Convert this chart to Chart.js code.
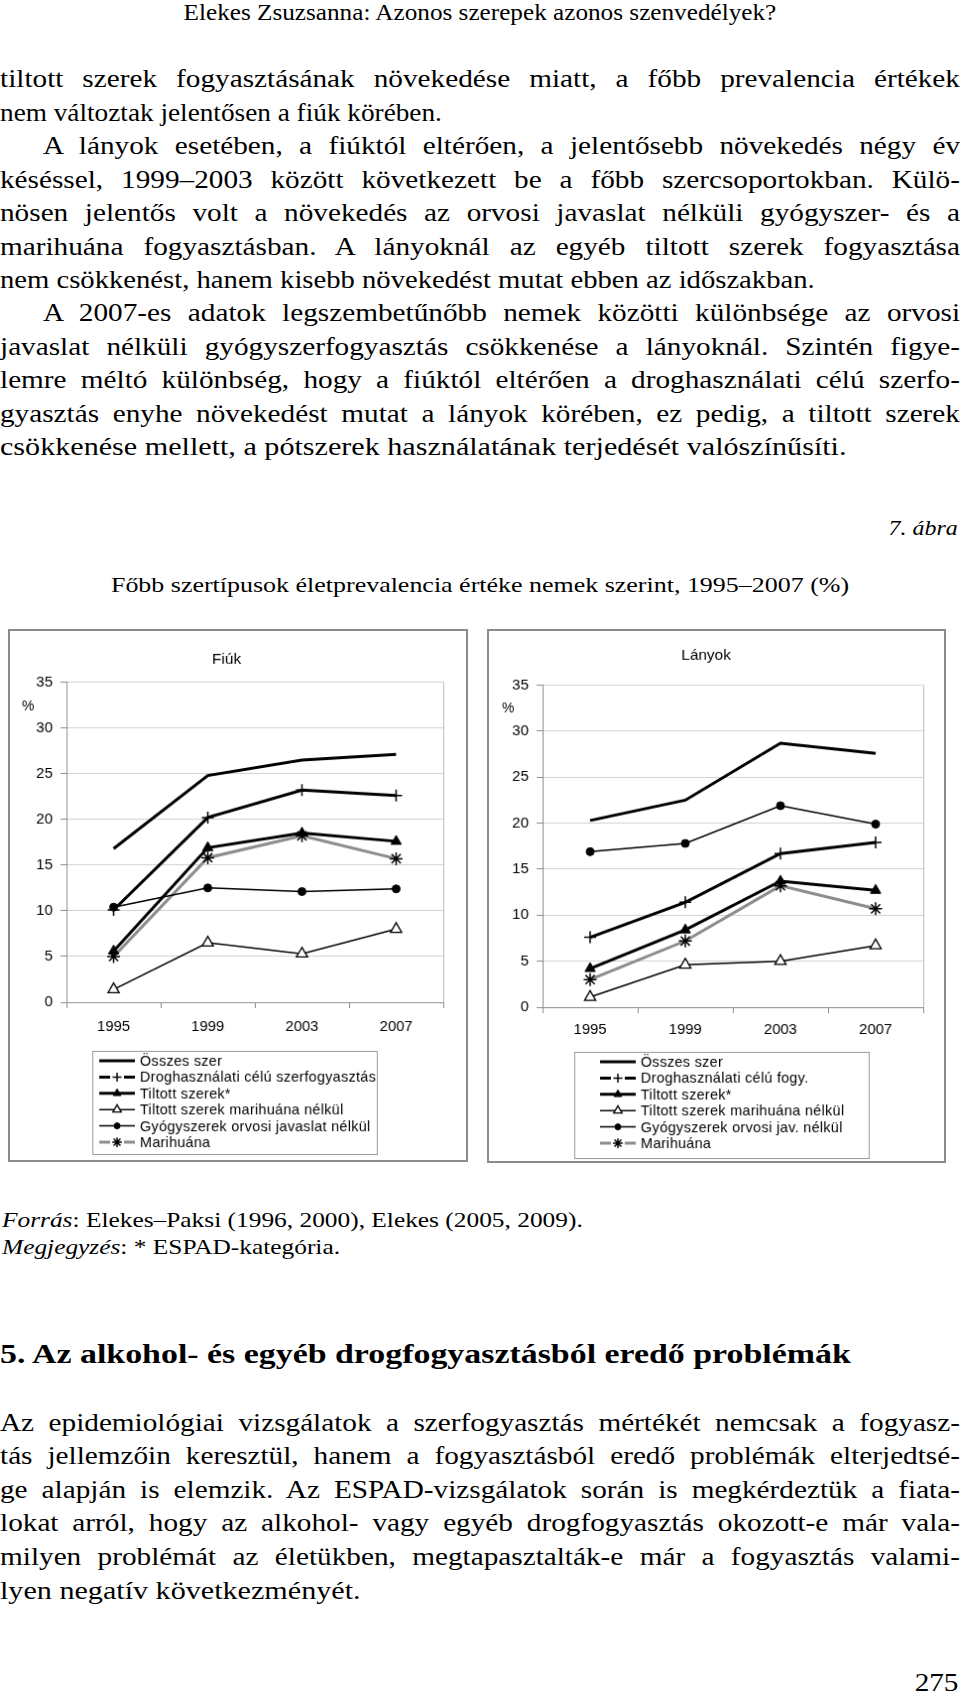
<!DOCTYPE html>
<html lang="hu">
<head>
<meta charset="utf-8">
<title>7. ábra</title>
<script src="https://cdn.jsdelivr.net/npm/chart.js"></script>
<style>
  html, body { margin: 0; padding: 0; background: #fff; }
  body { width: 960px; height: 1699px; position: relative; overflow: hidden;
         font-family: "Liberation Serif", "Times New Roman", serif; color: #000; }
  /* the source pdf sets Times slightly wider than Liberation Serif */
  .ln { position: absolute; left: 0; width: 820.5px; font-size: 25px; line-height: 34px;
        transform: scaleX(1.17); transform-origin: 0 0; }
  .j { text-align: justify; text-align-last: justify; }
  .ind { left: 43px; width: 783.8px; }
  .hdr { position: absolute; top: 0; left: 0; width: 857px; text-align: center; font-size: 22.5px; line-height: 26px;
         transform: scaleX(1.12); transform-origin: 0 0; }
  .note { position: absolute; left: 2px; font-size: 21.7px; line-height: 27px;
          transform: scaleX(1.17); transform-origin: 0 0; }
  .right { position: absolute; right: 2px; transform-origin: 100% 0; }
  canvas.box { position: absolute; border: 2px solid #8c8c8c; }
</style>
</head>
<body>
<div class="hdr">Elekes Zsuzsanna: Azonos szerepek azonos szenvedélyek?</div>

<div class="ln j" style="top:62px">tiltott szerek fogyasztásának növekedése miatt, a főbb prevalencia értékek</div>
<div class="ln" style="top:96px; transform:scaleX(1.09);">nem változtak jelentősen a fiúk körében.</div>
<div class="ln j ind" style="top:129px">A lányok esetében, a fiúktól eltérően, a jelentősebb növekedés négy év</div>
<div class="ln j" style="top:163px">késéssel, 1999–2003 között következett be a főbb szercsoportokban. Külö-</div>
<div class="ln j" style="top:196px">nösen jelentős volt a növekedés az orvosi javaslat nélküli gyógyszer- és a</div>
<div class="ln j" style="top:230px">marihuána fogyasztásban. A lányoknál az egyéb tiltott szerek fogyasztása</div>
<div class="ln" style="top:263px; transform:scaleX(1.146);">nem csökkenést, hanem kisebb növekedést mutat ebben az időszakban.</div>
<div class="ln j ind" style="top:296px">A 2007-es adatok legszembetűnőbb nemek közötti különbsége az orvosi</div>
<div class="ln j" style="top:330px">javaslat nélküli gyógyszerfogyasztás csökkenése a lányoknál. Szintén figye-</div>
<div class="ln j" style="top:363px">lemre méltó különbség, hogy a fiúktól eltérően a droghasználati célú szerfo-</div>
<div class="ln j" style="top:397px">gyasztás enyhe növekedést mutat a lányok körében, ez pedig, a tiltott szerek</div>
<div class="ln" style="top:430px; transform:scaleX(1.205);">csökkenése mellett, a pótszerek használatának terjedését valószínűsíti.</div>

<div class="right" style="top:515px; font-size:21px; line-height:26px; font-style:italic; transform:scaleX(1.14);">7. ábra</div>
<div style="position:absolute; top:572px; left:0; width:813.6px; text-align:center; font-size:22px; line-height:26px; transform:scaleX(1.18); transform-origin:0 0;">Főbb szertípusok életprevalencia értéke nemek szerint, 1995–2007 (%)</div>

<canvas id="fiuk" class="box" width="460" height="533" style="left:8px; top:629px;"></canvas>
<canvas id="lanyok" class="box" width="459" height="534" style="left:487px; top:629px;"></canvas>

<div class="note" style="top:1207px"><i>Forrás</i>: Elekes–Paksi (1996, 2000), Elekes (2005, 2009).</div>
<div class="note" style="top:1234px"><i>Megjegyzés</i>: * ESPAD-kategória.</div>

<div class="ln" style="top:1337px; font-size:28px; font-weight:bold; width:793px; transform:scaleX(1.21);">5. Az alkohol- és egyéb drogfogyasztásból eredő problémák</div>

<div class="ln j" style="top:1406px">Az epidemiológiai vizsgálatok a szerfogyasztás mértékét nemcsak a fogyasz-</div>
<div class="ln j" style="top:1439px">tás jellemzőin keresztül, hanem a fogyasztásból eredő problémák elterjedtsé-</div>
<div class="ln j" style="top:1473px">ge alapján is elemzik. Az ESPAD-vizsgálatok során is megkérdeztük a fiata-</div>
<div class="ln j" style="top:1506px">lokat arról, hogy az alkohol- vagy egyéb drogfogyasztás okozott-e már vala-</div>
<div class="ln j" style="top:1540px">milyen problémát az életükben, megtapasztalták-e már a fogyasztás valami-</div>
<div class="ln" style="top:1574px; transform:scaleX(1.205);">lyen negatív következményét.</div>

<div class="right" style="top:1668px; font-size:25px; line-height:30px; transform:scaleX(1.17);">275</div>

<script>
// adatok (%), leolvasva az ábráról
const years = ['1995', '1999', '2003', '2007'];
const labelsFiuk = ['Összes szer', 'Droghasználati célú szerfogyasztás', 'Tiltott szerek*',
  'Tiltott szerek marihuána nélkül', 'Gyógyszerek orvosi javaslat nélkül', 'Marihuána'];
const labelsLanyok = ['Összes szer', 'Droghasználati célú fogy.', 'Tiltott szerek*',
  'Tiltott szerek marihuána nélkül', 'Gyógyszerek orvosi jav. nélkül', 'Marihuána'];

const fiukOsszes = [16.8, 24.8, 26.5, 27.1];
const fiukDrog = [10.1, 20.2, 23.2, 22.6];
const fiukTiltott = [5.6, 16.9, 18.5, 17.6];
const fiukTiltottNelkul = [1.4, 6.5, 5.3, 8.0];
const fiukGyogyszer = [10.4, 12.5, 12.1, 12.4];
const fiukMarihuana = [5.0, 15.8, 18.2, 15.7];

const lanyOsszes = [20.3, 22.5, 28.7, 27.6];
const lanyDrog = [7.6, 11.4, 16.7, 17.9];
const lanyTiltott = [4.2, 8.4, 13.7, 12.7];
const lanyTiltottNelkul = [1.1, 4.6, 5.0, 6.7];
const lanyGyogyszer = [16.9, 17.8, 21.9, 19.9];
const lanyMarihuana = [3.0, 7.2, 13.2, 10.7];

const yMin = 0, yMax = 35, yStep = 5;

// vonal- es jelolostilusok sorrendben
const styles = [
  { borderColor: '#000', borderWidth: 3, pointRadius: 0, pointStyle: 'circle' },
  { borderColor: '#000', borderWidth: 3, pointStyle: 'cross', pointRadius: 6, pointBorderWidth: 1.5,
    pointBorderColor: '#000', pointBackgroundColor: '#000', gap: true },
  { borderColor: '#000', borderWidth: 3, pointStyle: 'triangle', pointRadius: 6, pointBorderWidth: 1,
    pointBorderColor: '#000', pointBackgroundColor: '#000' },
  { borderColor: '#000', borderWidth: 1.5, pointStyle: 'triangle', pointRadius: 6.5, pointBorderWidth: 1.3,
    pointBorderColor: '#000', pointBackgroundColor: '#fff' },
  { borderColor: '#000', borderWidth: 1.5, pointStyle: 'circle', pointRadius: 4, pointBorderWidth: 1,
    pointBorderColor: '#000', pointBackgroundColor: '#000' },
  { borderColor: '#8c8c8c', borderWidth: 3, pointStyle: 'star', pointRadius: 6.5, pointBorderWidth: 1.5,
    pointBorderColor: '#000', pointBackgroundColor: '#000', gap: true }
];

const sansFont = '"Liberation Sans", Arial, sans-serif';

// legend box, % felirat, jobb oldali keret
const extras = {
  id: 'extras',
  beforeDatasetsDraw(chart) {
    const { ctx, chartArea } = chart;
    ctx.save();
    ctx.strokeStyle = '#bdbdbd';
    ctx.lineWidth = 1;
    ctx.beginPath();
    ctx.moveTo(Math.round(chartArea.right) + 0.5, chartArea.top);
    ctx.lineTo(Math.round(chartArea.right) + 0.5, chartArea.bottom);
    ctx.stroke();
    ctx.restore();
  },
  afterDraw(chart, args, opts) {
    const { ctx } = chart;
    ctx.save();
    ctx.fillStyle = '#000';
    ctx.font = '14px ' + sansFont;
    ctx.textBaseline = 'middle';
    ctx.fillText('%', opts.pctX, opts.pctY);

    ctx.strokeStyle = '#9a9a9a';
    ctx.lineWidth = 1;
    ctx.strokeRect(opts.x + 0.5, opts.y + 0.5, opts.w, opts.h);

    chart.data.datasets.forEach((ds, i) => {
      const y = opts.y + opts.first + i * opts.step;
      const x1 = opts.sx, x2 = opts.sx + 36, xm = (x1 + x2) / 2;
      ctx.strokeStyle = ds.borderColor;
      ctx.lineWidth = ds.borderWidth;
      ctx.beginPath();
      if (ds.gap) {
        ctx.moveTo(x1, y); ctx.lineTo(xm - 7, y);
        ctx.moveTo(xm + 7, y); ctx.lineTo(x2, y);
      } else {
        ctx.moveTo(x1, y); ctx.lineTo(x2, y);
      }
      ctx.stroke();
      if (ds.pointRadius > 0) {
        ctx.fillStyle = ds.pointBackgroundColor;
        ctx.strokeStyle = ds.pointBorderColor;
        ctx.lineWidth = ds.pointBorderWidth;
        Chart.helpers.drawPoint(ctx, {
          pointStyle: ds.pointStyle, radius: ds.pointRadius * 0.75,
          borderWidth: ds.pointBorderWidth, rotation: 0
        }, xm, y);
      }
      ctx.fillStyle = '#000';
      ctx.font = '14.5px ' + sansFont;
      ctx.letterSpacing = '0.3px';
      ctx.fillText(ds.label, x2 + 5, y + 1);
      ctx.letterSpacing = '0px';
    });
    ctx.restore();
  }
};

function makeChart(id, title, labels, series, box) {
  const datasets = series.map((data, i) => Object.assign({
    label: labels[i],
    data: data,
    fill: false,
    tension: 0,
    pointHoverRadius: 0
  }, styles[i]));

  return new Chart(document.getElementById(id), {
    type: 'line',
    data: { labels: years, datasets: datasets },
    plugins: [extras],
    options: {
      responsive: false,
      animation: false,
      events: [],
      layout: { padding: { left: 0, right: box.padRight, top: 0, bottom: box.padBottom } },
      plugins: {
        legend: { display: false },
        tooltip: { enabled: false },
        title: {
          display: true,
          text: title,
          color: '#000',
          font: { family: sansFont, size: 15.5, weight: 'normal' },
          padding: { top: box.titleTop, bottom: box.titleBottom }
        },
        extras: box.legend
      },
      scales: {
        x: {
          offset: true,
          grid: { display: true, drawOnChartArea: false, offset: true, tickLength: 6, color: '#8c8c8c' },
          border: { display: true, color: '#8c8c8c', width: 1 },
          ticks: { color: '#000', padding: box.xPad, font: { family: sansFont, size: 15 } }
        },
        y: {
          min: yMin,
          max: yMax,
          afterFit(scale) { scale.width = box.axisWidth; },
          ticks: { stepSize: yStep, color: '#000', padding: 8, font: { family: sansFont, size: 15 } },
          grid: { color: '#d2d2d2', tickLength: 6, tickColor: '#8c8c8c' },
          border: { display: true, color: '#8c8c8c', width: 1 }
        }
      }
    }
  });
}

makeChart('fiuk', 'Fiúk', labelsFiuk,
  [fiukOsszes, fiukDrog, fiukTiltott, fiukTiltottNelkul, fiukGyogyszer, fiukMarihuana],
  { padRight: 23, padBottom: 115, xPad: 10, titleTop: 19, titleBottom: 14, axisWidth: 57,
    legend: { pctX: 12, pctY: 76, x: 83, y: 423, w: 287, h: 104, sx: 90, first: 10, step: 16.4 } });

makeChart('lanyok', 'Lányok', labelsLanyok,
  [lanyOsszes, lanyDrog, lanyTiltott, lanyTiltottNelkul, lanyGyogyszer, lanyMarihuana],
  { padRight: 21, padBottom: 115, xPad: 8, titleTop: 15, titleBottom: 21, axisWidth: 54,
    legend: { pctX: 13, pctY: 78, x: 86, y: 424, w: 297, h: 107, sx: 112, first: 10, step: 16.4 } });
</script>
</body>
</html>
